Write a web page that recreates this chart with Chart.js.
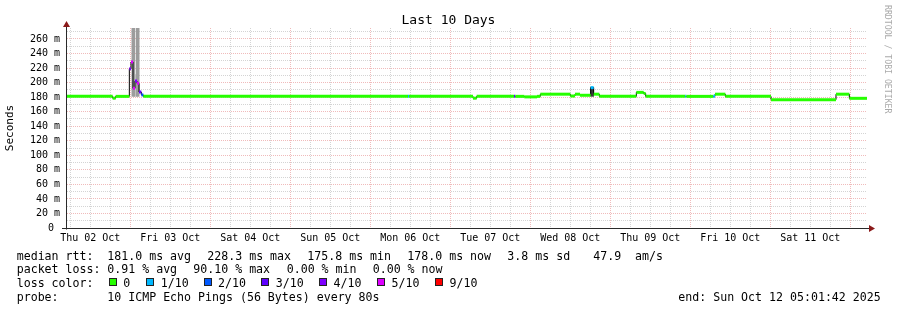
<!DOCTYPE html>
<html><head><meta charset="utf-8">
<script src="https://cdn.jsdelivr.net/npm/chart.js@4.4.1/dist/chart.umd.min.js"></script>
<style>
html,body{margin:0;padding:0;background:#fff;}
#wrap{position:relative;width:897px;height:310px;overflow:hidden;font-family:'DejaVu Sans Mono',monospace;color:#000;}
canvas{position:absolute;left:0;top:0;}
.t{position:absolute;white-space:pre;font-size:11.6px;line-height:14px;}
.sq{position:absolute;width:6px;height:6px;border:1px solid #222;top:277.5px;}
#title{position:absolute;left:0;width:897px;text-align:center;top:12px;font-size:13px;line-height:15px;white-space:pre;}
#wm{position:absolute;left:883px;top:5px;writing-mode:vertical-rl;font-size:8.2px;line-height:10px;color:#aaa;white-space:pre;}
</style></head>
<body><div id="wrap"><canvas id="c" width="897" height="310"></canvas>
<div id="title">Last 10 Days</div>
<div id="wm">RRDTOOL / TOBI OETIKER</div>
<div class="t" style="left:16.7px;top:248.5px">median rtt:</div>
<div class="t" style="left:107.3px;top:248.5px">181.0 ms avg</div>
<div class="t" style="left:207.3px;top:248.5px">228.3 ms max</div>
<div class="t" style="left:307.3px;top:248.5px">175.8 ms min</div>
<div class="t" style="left:407.3px;top:248.5px">178.0 ms now</div>
<div class="t" style="left:507.3px;top:248.5px">3.8 ms sd</div>
<div class="t" style="left:593.3px;top:248.5px">47.9</div>
<div class="t" style="left:635px;top:248.5px">am/s</div>
<div class="t" style="left:16.7px;top:262.2px">packet loss:</div>
<div class="t" style="left:107.3px;top:262.2px">0.91 % avg</div>
<div class="t" style="left:193.3px;top:262.2px">90.10 % max</div>
<div class="t" style="left:286.7px;top:262.2px">0.00 % min</div>
<div class="t" style="left:372.7px;top:262.2px">0.00 % now</div>
<div class="t" style="left:16.7px;top:275.9px">loss color:</div>
<div id="lossLegend"></div>
<div class="t" style="left:16.7px;top:289.6px">probe:</div>
<div class="t" style="left:107.3px;top:289.6px">10 ICMP Echo Pings (56 Bytes) every 80s</div>
<div class="t" style="left:678.3px;top:289.6px">end: Sun Oct 12 05:01:42 2025</div>
</div>
<script>
// ---- data (hours since Thu 02 Oct 05:01:42) ----
const endHour = 240;
const stepHours = [0, 13.7, 14.6, 18.7, 19.2, 19.8, 20.4, 21.0, 21.6, 22.3, 22.9, 102.3, 102.6, 121.8, 122.9, 134.1, 134.5, 137.2, 141.0, 142.0, 151.0, 152.4, 153.9, 157.1, 158.0, 159.7, 170.8, 173.0, 173.6, 185.5, 185.8, 193.9, 194.4, 197.5, 211.2, 230.7, 234.7];
const medianRtt = [181, 178.5, 181, 219, 228.3, 192, 202, 199, 187, 183, 181, 181, 181, 178.5, 181, 181, 181, 180.3, 181, 184, 181.5, 184, 182.5, 193, 184, 181, 186.5, 185, 181, 181, 181, 181, 184, 181, 176.5, 184, 178.3];
const lossTenths = [0, 0, 0, 4, 5, 5, 4, 5, 3, 2, 0, 1, 0, 0, 0, 3, 0, 0, 0, 0, 0, 0, 0, 1, 0, 0, 0, 0, 0, 1, 0, 1, 0, 0, 0, 0, 0];

const smokeHours = [19.9, 21.2];
const smokeLow = [181, 181];
const smokeHigh = [275, 275];
const lightSmokeHours = [20.6];
const lightSmokeLow = [181];
const lightSmokeHigh = [211];
const darkSmokeHours = [157.55];
const darkSmokeLow = [181];
const darkSmokeHigh = [193];

const dayLabels = ['Thu 02 Oct', 'Fri 03 Oct', 'Sat 04 Oct', 'Sun 05 Oct', 'Mon 06 Oct', 'Tue 07 Oct', 'Wed 08 Oct', 'Thu 09 Oct', 'Fri 10 Oct', 'Sat 11 Oct'];
const yMajorValues = [0, 20, 40, 60, 80, 100, 120, 140, 160, 180, 200, 220, 240, 260];
const yMajorLabels = ['0 ', '20 m', '40 m', '60 m', '80 m', '100 m', '120 m', '140 m', '160 m', '180 m', '200 m', '220 m', '240 m', '260 m'];
const lossLegendLabels = ['0', '1/10', '2/10', '3/10', '4/10', '5/10', '9/10'];
const lossLegendTenths = [0, 1, 2, 3, 4, 5, 9];

// ---- styles ----
const lossColors = {0: '#26ff00', 1: '#00b8ff', 2: '#0059ff', 3: '#5e00ff', 4: '#7e00ff', 5: '#dd00ff', 9: '#ff0000'};
const RED_GRID = 'rgba(225,120,120,0.5)';
const GRAY_GRID = 'rgba(160,160,160,0.45)';
const MONO = 'DejaVu Sans Mono';

// legend squares
(function () {
  const sqX = [108.7, 146.2, 203.6, 261.3, 319, 377, 435];
  const box = document.getElementById('lossLegend');
  lossLegendLabels.forEach((lab, i) => {
    const s = document.createElement('div');
    s.className = 'sq';
    s.style.left = sqX[i] + 'px';
    s.style.background = lossColors[lossLegendTenths[i]];
    box.appendChild(s);
    const t = document.createElement('div');
    t.className = 't';
    t.style.left = (sqX[i] + 14.5) + 'px';
    t.style.top = '275.9px';
    t.textContent = lab;
    box.appendChild(t);
  });
})();

// ---- derived tables for the library ----
const firstGridHour = 1 - (1 + 42 / 60) / 60; // 06:00 on Oct 2
const xGridHours = [];
for (let h = firstGridHour; h <= endHour; h += 6) xGridHours.push(h);
const yGridValues = [];
yMajorValues.forEach(v => { yGridValues.push(v); if (v + 10 <= 270) yGridValues.push(v + 10); });

const stepLine = stepHours.map((h, i) => ({x: h, y: medianRtt[i]}));
stepLine.push({x: endHour, y: medianRtt[medianRtt.length - 1]});

const pieces = [];
const pieceLoss = [];
for (let i = 0; i < stepHours.length; i++) {
  const h1 = i + 1 < stepHours.length ? stepHours[i + 1] : endHour;
  pieces.push({x: stepHours[i], y: medianRtt[i]}, {x: h1, y: medianRtt[i]}, {x: h1, y: null});
  pieceLoss.push(lossTenths[i], lossTenths[i], lossTenths[i]);
}

const axisPlugin = {
  id: 'rrdAxes',
  afterDatasetsDraw(chart) {
    const {ctx, chartArea: a} = chart;
    const x0 = Math.round(a.left) - 0.5, y0 = Math.round(a.bottom) + 0.5;
    ctx.save();
    ctx.strokeStyle = '#2a2a2a';
    ctx.lineWidth = 1;
    ctx.beginPath();
    ctx.moveTo(x0, y0 + 1); ctx.lineTo(x0, a.top - 3);
    ctx.moveTo(a.left - 5, y0); ctx.lineTo(a.right + 3, y0);
    ctx.stroke();
    ctx.fillStyle = '#8b1a1a';
    ctx.beginPath();
    ctx.moveTo(x0, a.top - 7); ctx.lineTo(x0 - 3.5, a.top - 1); ctx.lineTo(x0 + 3.5, a.top - 1); ctx.closePath(); ctx.fill();
    ctx.beginPath();
    ctx.moveTo(a.right + 8, y0); ctx.lineTo(a.right + 2, y0 - 3.5); ctx.lineTo(a.right + 2, y0 + 3.5); ctx.closePath(); ctx.fill();
    ctx.restore();
  }
};

new Chart(document.getElementById('c'), {
  type: 'line',
  data: {
    datasets: [
      {type: 'bar', label: 'light smoke', data: lightSmokeHours.map((h, i) => ({x: h, y: [lightSmokeLow[i], lightSmokeHigh[i]]})),
        backgroundColor: '#cfcfcf', borderWidth: 0, barThickness: 5, grouped: false, order: 6},
      {type: 'bar', label: 'smoke', data: smokeHours.map((h, i) => ({x: h, y: [smokeLow[i], smokeHigh[i]]})),
        backgroundColor: '#9c9c9c', borderWidth: 0, barThickness: 3, grouped: false, order: 5},
      {type: 'bar', label: 'dark smoke', data: darkSmokeHours.map((h, i) => ({x: h, y: [darkSmokeLow[i], darkSmokeHigh[i]]})),
        backgroundColor: '#3a3a3a', borderWidth: 0, barThickness: 3, grouped: false, order: 5},
      {type: 'line', label: 'median', data: stepLine, stepped: true, borderColor: '#000', borderWidth: 1,
        pointRadius: 0, fill: false, order: 2},
      {type: 'line', label: 'loss', data: pieces, spanGaps: false, borderColor: lossColors[0], borderWidth: 3,
        pointRadius: 0, fill: false, order: 1,
        segment: {borderColor: c => lossColors[pieceLoss[c.p0DataIndex]]}}
    ]
  },
  options: {
    responsive: false,
    animation: false,
    devicePixelRatio: 1,
    events: [],
    layout: {padding: {top: 28, right: 30, left: 0, bottom: 0}, autoPadding: false},
    plugins: {legend: {display: false}, title: {display: false}, tooltip: {enabled: false}},
    scales: {
      x: {
        type: 'linear', min: 0, max: endHour, offset: false,
        afterBuildTicks: s => { s.ticks = xGridHours.map(v => ({value: v})); },
        afterFit: s => { s.height = 82; },
        grid: {offset: false, drawTicks: false, lineWidth: 1, borderDash: [1, 1],
          color: c => (c.index % 4 === 3 ? RED_GRID : GRAY_GRID)},
        border: {display: false, dash: [1, 1]},
        ticks: {autoSkip: false, maxRotation: 0, minRotation: 0, padding: 4, color: '#000',
          font: {family: MONO, size: 10},
          callback: (v, i) => (i % 4 === 1 ? (dayLabels[(i - 1) / 4] || '') : '')}
      },
      y: {
        type: 'linear', min: 0, max: 275,
        afterBuildTicks: s => { s.ticks = yGridValues.map(v => ({value: v})); },
        afterFit: s => { s.width = 67; },
        grid: {drawTicks: false, lineWidth: 1, borderDash: [1, 1],
          color: c => (c.tick.value === 0 ? 'rgba(0,0,0,0)' : (c.tick.value % 20 === 0 ? RED_GRID : GRAY_GRID))},
        border: {display: false, dash: [1, 1]},
        ticks: {autoSkip: false, padding: 7, color: '#000', font: {family: MONO, size: 10},
          callback: v => { const k = yMajorValues.indexOf(v); return k >= 0 ? yMajorLabels[k] : ''; }},
        title: {display: true, text: 'Seconds', color: '#000', font: {family: MONO, size: 11}, padding: {top: 4, bottom: 0}}
      }
    }
  },
  plugins: [axisPlugin]
});
</script>
</body></html>
